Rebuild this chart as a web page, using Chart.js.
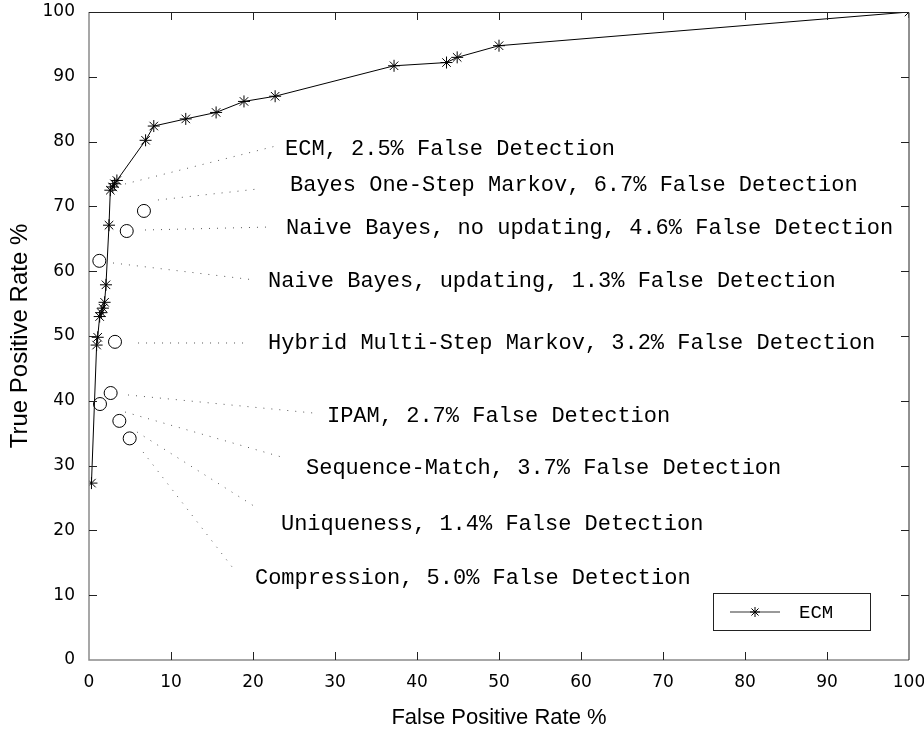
<!DOCTYPE html>
<html>
<head>
<meta charset="utf-8">
<script src="https://cdn.jsdelivr.net/npm/chart.js@4"></script>
<style>
  html, body { margin: 0; padding: 0; background: #fff; }
  #wrap { width: 924px; height: 733px; position: relative; }
</style>
</head>
<body>
<div id="wrap"><canvas id="c" width="924" height="733"></canvas></div>
<script>
// ---------------- DATA ----------------
const xTicks = [0, 10, 20, 30, 40, 50, 60, 70, 80, 90, 100];
const yTicks = [0, 10, 20, 30, 40, 50, 60, 70, 80, 90, 100];

// ECM ROC curve (False Positive Rate %, True Positive Rate %)
const ecmFpr = [0.3, 0.93, 1.06, 1.3, 1.5, 1.7, 1.9, 2.07, 2.44, 2.6, 2.9, 3.1, 3.4,
                6.9, 7.9, 11.8, 15.5, 18.9, 22.7, 37.2, 43.6, 44.9, 50.0, 100];
const ecmTpr = [27.3, 48.6, 49.8, 53.0, 53.6, 54.3, 55.2, 57.9, 67.1, 72.5, 73.0, 73.5, 74.0,
                80.2, 82.4, 83.5, 84.5, 86.2, 87.0, 91.7, 92.2, 93.0, 94.8, 100];

// Other methods (single operating points)
const methodNames = ["Bayes One-Step Markov", "Naive Bayes, no updating", "Naive Bayes, updating",
                     "Hybrid Multi-Step Markov", "IPAM", "Sequence-Match", "Uniqueness", "Compression"];
const methodFpr = [6.7, 4.6, 1.26, 3.17, 2.64, 3.7, 1.34, 4.96];
const methodTpr = [69.3, 66.2, 61.6, 49.1, 41.2, 36.9, 39.5, 34.2];

// Annotation texts (all methods incl. ECM)
const annotationTexts = [
  "ECM, 2.5% False Detection",
  "Bayes One-Step Markov, 6.7% False Detection",
  "Naive Bayes, no updating, 4.6% False Detection",
  "Naive Bayes, updating, 1.3% False Detection",
  "Hybrid Multi-Step Markov, 3.2% False Detection",
  "IPAM, 2.7% False Detection",
  "Sequence-Match, 3.7% False Detection",
  "Uniqueness, 1.4% False Detection",
  "Compression, 5.0% False Detection"
];

// ---------------- ANNOTATION PLACEMENT (data coordinates) ----------------
const annoLayout = {
  textX:   [23.9, 24.51, 24.02, 21.83, 21.83, 29.02, 26.46, 23.41, 20.24],
  textY:   [78.86, 73.3, 66.67, 58.49, 48.92, 37.65, 29.63, 20.99, 12.65],
  lineX0:  [4.39, 8.41, 6.83, 2.93, 5.98, 4.76, 4.39, 5.85, 6.59],
  lineY0:  [73.46, 70.99, 66.36, 61.27, 48.92, 40.9, 38.27, 35.19, 32.1],
  lineX1:  [23.29, 20.61, 22.07, 20.24, 19.27, 27.32, 23.9, 20.49, 17.93],
  lineY1:  [79.48, 72.69, 66.82, 58.64, 48.92, 38.12, 31.17, 23.46, 13.58]
};

const ecmPoints = ecmFpr.map((x, i) => ({ x: x, y: ecmTpr[i] }));
const methodPoints = methodFpr.map((x, i) => ({ x: x, y: methodTpr[i] }));

const tickFont = { family: "'DejaVu Sans', sans-serif", size: 17 };
const monoFamily = "'Liberation Mono', 'DejaVu Sans Mono', monospace";

const framePlugin = {
  id: 'frame',
  afterDatasetsDraw(chart) {
    const { ctx, chartArea: a, scales: { x, y } } = chart;
    ctx.save();
    // leader lines
    ctx.strokeStyle = '#555';
    ctx.lineWidth = 1;
    ctx.setLineDash([1, 7]);
    for (let i = 0; i < annotationTexts.length; i++) {
      ctx.beginPath();
      ctx.moveTo(x.getPixelForValue(annoLayout.lineX0[i]), y.getPixelForValue(annoLayout.lineY0[i]));
      ctx.lineTo(x.getPixelForValue(annoLayout.lineX1[i]), y.getPixelForValue(annoLayout.lineY1[i]));
      ctx.stroke();
    }
    ctx.setLineDash([]);
    // texts
    ctx.fillStyle = '#000';
    ctx.font = '22px ' + monoFamily;
    ctx.textAlign = 'left';
    ctx.textBaseline = 'middle';
    for (let i = 0; i < annotationTexts.length; i++) {
      ctx.fillText(annotationTexts[i], x.getPixelForValue(annoLayout.textX[i]), y.getPixelForValue(annoLayout.textY[i]));
    }
    // frame
    ctx.lineWidth = 1.5;
    ctx.strokeStyle = '#8a8a8a';
    ctx.beginPath();
    ctx.moveTo(a.left, a.top); ctx.lineTo(a.left, a.bottom); ctx.lineTo(a.right, a.bottom);
    ctx.stroke();
    ctx.lineWidth = 1;
    ctx.strokeStyle = '#222';
    ctx.beginPath();
    ctx.moveTo(a.left, a.top + 0.5); ctx.lineTo(a.right, a.top + 0.5); ctx.lineTo(a.right, a.bottom);
    ctx.stroke();
    // inward ticks
    const tl = 8;
    ctx.strokeStyle = '#222';
    ctx.beginPath();
    xTicks.forEach(v => {
      if (v === 0 || v === 100) return;
      const px = Math.round(x.getPixelForValue(v)) + 0.5;
      ctx.moveTo(px, a.bottom); ctx.lineTo(px, a.bottom - tl);
      ctx.moveTo(px, a.top); ctx.lineTo(px, a.top + tl);
    });
    yTicks.forEach(v => {
      if (v === 0 || v === 100) return;
      const py = Math.round(y.getPixelForValue(v)) + 0.5;
      ctx.moveTo(a.left, py); ctx.lineTo(a.left + tl, py);
      ctx.moveTo(a.right, py); ctx.lineTo(a.right - tl, py);
    });
    ctx.stroke();
    // legend box
    const bx = a.right - 196, by = a.bottom - 67, bw = 157, bh = 37;
    ctx.strokeStyle = '#222';
    ctx.strokeRect(bx + 0.5, by + 0.5, bw, bh);
    const ly = by + 19;
    ctx.strokeStyle = '#777';
    ctx.lineWidth = 1.5;
    ctx.beginPath(); ctx.moveTo(bx + 17, ly); ctx.lineTo(bx + 67, ly); ctx.stroke();
    ctx.strokeStyle = '#000';
    ctx.lineWidth = 1;
    Chart.helpers.drawPoint(ctx, { pointStyle: 'star', radius: 5, rotation: 0, borderWidth: 1 }, bx + 42, ly);
    ctx.fillStyle = '#000';
    ctx.font = '19px ' + monoFamily;
    ctx.textBaseline = 'middle';
    ctx.fillText('ECM', bx + 86, ly + 1);
    ctx.restore();
  }
};

new Chart(document.getElementById('c'), {
  type: 'scatter',
  data: {
    datasets: [
      {
        label: 'ECM',
        data: ecmPoints,
        showLine: true,
        borderColor: '#000',
        borderWidth: 1,
        pointStyle: 'star',
        pointRadius: 6,
        pointBorderColor: '#000',
        pointBorderWidth: 1,
        pointBackgroundColor: '#000'
      },
      {
        label: 'Methods',
        data: methodPoints,
        showLine: false,
        pointStyle: 'circle',
        pointRadius: 6.5,
        pointBorderColor: '#000',
        pointBorderWidth: 1,
        pointBackgroundColor: '#fff'
      }
    ]
  },
  options: {
    responsive: false,
    animation: false,
    devicePixelRatio: 1,
    layout: { padding: { top: 12, right: 15, left: 0, bottom: 0 } },
    plugins: { legend: { display: false }, tooltip: { enabled: false } },
    scales: {
      x: {
        type: 'linear', min: 0, max: 100,
        afterBuildTicks: s => { s.ticks = xTicks.map(v => ({ value: v })); },
        afterFit: s => { s.height = 73; s.paddingLeft = 0; s.paddingRight = 0; },
        grid: { display: false, drawTicks: false },
        border: { display: false },
        ticks: { color: '#000', font: tickFont, padding: 12, maxRotation: 0, autoSkip: false },
        title: { display: true, text: 'False Positive Rate %', color: '#000',
                 font: { family: "'Liberation Sans', Arial, sans-serif", size: 22 }, padding: { top: 0, bottom: 2 } }
      },
      y: {
        type: 'linear', min: 0, max: 100,
        afterBuildTicks: s => { s.ticks = yTicks.map(v => ({ value: v })); },
        afterFit: s => { s.width = 89; s.paddingTop = 0; s.paddingBottom = 0; },
        grid: { display: false, drawTicks: false },
        border: { display: false },
        ticks: { color: '#000', font: tickFont, padding: 14, autoSkip: false },
        title: { display: true, text: 'True Positive Rate %', color: '#000',
                 font: { family: "'Liberation Sans', Arial, sans-serif", size: 24 }, padding: { top: 6, bottom: 0 } }
      }
    }
  },
  plugins: [framePlugin]
});
</script>
</body>
</html>
